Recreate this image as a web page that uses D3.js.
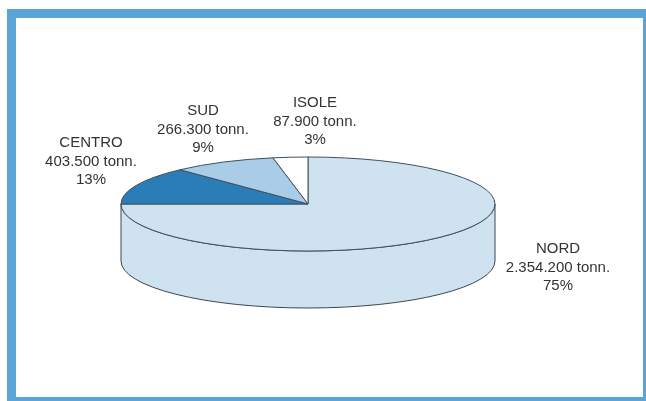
<!DOCTYPE html>
<html><head><meta charset="utf-8">
<script src="https://cdn.jsdelivr.net/npm/d3@7"></script>
<style>html,body{margin:0;padding:0;background:#fff;overflow:hidden}svg{display:block}</style>
</head><body><svg id="c" width="646" height="401"></svg>
<script>
const categories = ["NORD","CENTRO","SUD","ISOLE"];
const tonnes = ["2.354.200 tonn.","403.500 tonn.","266.300 tonn.","87.900 tonn."];
const percents = [75,13,9,3];
const sliceColors = ["#cfe2f0","#2a7db6","#a9cde7","#ffffff"];
const labelX = [558,91,203,315];
const labelY = [253,147,115,107];

const W=646,H=401,cx=308,cy=204,rx=187,ry=47,depth=57;
const svg=d3.select("#c");
const defs=svg.append("defs");
defs.append("filter").attr("id","soft").append("feGaussianBlur").attr("stdDeviation",0.4);

svg.append("rect").attr("width",W).attr("height",H).attr("fill","#fff");
svg.append("rect").attr("x",11.5).attr("y",13.5).attr("width",636).attr("height",388)
  .attr("fill","#fff").attr("stroke","#5ca4d6").attr("stroke-width",9);

const g=svg.append("g").attr("filter","url(#soft)");

// side wall
const side=`M${cx-rx},${cy}V${cy+depth}A${rx},${ry} 0 0 0 ${cx+rx},${cy+depth}V${cy}A${rx},${ry} 0 0 1 ${cx-rx},${cy}Z`;
g.append("path").attr("d",side).attr("fill",sliceColors[0]).attr("stroke","#3c4650").attr("stroke-width",1);

// top face
const pie=d3.pie().sort(null).value(d=>d);
const arc=d3.arc().innerRadius(0).outerRadius(rx);
g.append("g").attr("transform",`translate(${cx},${cy}) scale(1,${ry/rx})`)
  .selectAll("path").data(pie(percents)).join("path")
  .attr("d",arc).attr("fill",(d,i)=>sliceColors[i])
  .attr("stroke","#3f4f5e").attr("stroke-width",1).attr("vector-effect","non-scaling-stroke");

// labels
const t=svg.append("g").attr("filter","url(#soft)").attr("font-family","'Liberation Sans',Arial,sans-serif")
  .attr("font-size",15).attr("fill","#333").attr("text-anchor","middle");
categories.forEach((c,i)=>{
  [c,tonnes[i],percents[i]+"%"].forEach((s,j)=>
    t.append("text").attr("x",labelX[i]).attr("y",labelY[i]+j*18.5).text(s));
});
</script></body></html>
